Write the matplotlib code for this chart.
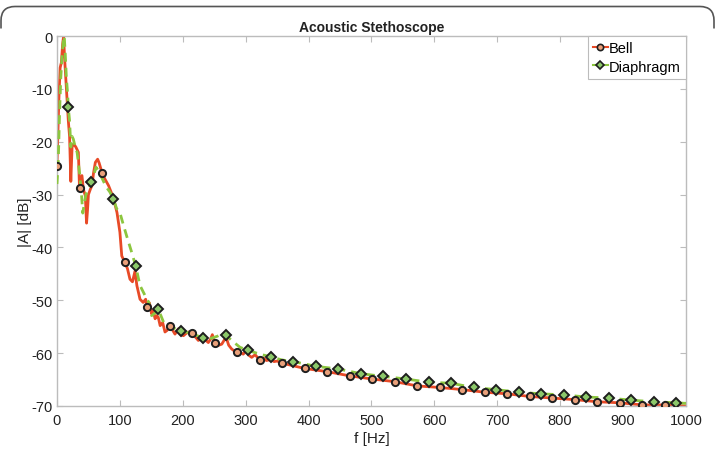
import numpy as np
import matplotlib
matplotlib.use("Agg")
import matplotlib.pyplot as plt
from matplotlib.lines import Line2D
from matplotlib.path import Path
from matplotlib.patches import PathPatch

plt.rcParams['font.family'] = ['Liberation Sans', 'DejaVu Sans']
plt.rcParams['axes.unicode_minus'] = False

# ---- Bell: marker points ----
bell_mark_f = [0, 35.8, 71.6, 107.4, 143.2, 179, 214.8, 250.6, 286.4, 322.2, 358,
               393.8, 429.6, 465.4, 501.2, 537, 572.8, 608.6, 644.4, 680.2, 716,
               751.8, 787.6, 823.4, 859.2, 895, 930.8, 966.6]
bell_mark_db = [-24.5, -28.8, -25.9, -42.7, -51.3, -54.8, -56.2, -58.0, -59.7, -61.3, -61.9,
                -62.9, -63.5, -64.3, -64.9, -65.4, -66.2, -66.5, -66.9, -67.4, -67.7,
                -68.2, -68.5, -68.8, -69.2, -69.4, -69.8, -69.8]
# ---- Bell: other line points ----
bell_line_f = [3, 5, 7, 9, 10.5, 12, 15, 18, 20, 22, 24, 26.5, 30, 34,
               39.7, 42, 45, 47, 48.5, 50, 53, 55.6, 58, 61, 64.6, 67, 69,
               76, 82, 86, 90, 95.4, 100, 103, 112, 116, 120, 124, 127, 132, 137, 141,
               147, 150.5, 153, 156, 158.5, 161, 164, 168, 171.7, 175, 183, 187.6,
               193, 197, 201, 205, 209, 219, 224.7, 228, 232.6, 236, 240.6, 244, 247,
               255, 262, 266, 269.7, 273, 277.6, 282, 291, 296, 301.5, 305, 309.5, 315,
               328, 333, 340, 345, 350, 1000]
bell_line_db = [-12, -6, -5, -1.5, 0, -4, -10, -16, -19, -27.5, -21, -20.4, -21, -22,
                -26.4, -29, -30.2, -35.4, -33, -30, -29, -28.3, -26, -23.9, -23.3, -24, -24.8,
                -27, -28.3, -29.5, -30.8, -33.4, -37.1, -41.6, -44, -46, -46.5, -44.5, -47.2, -49.8, -50.4, -49.8,
                -50.5, -52.6, -52, -53.5, -52.9, -53.2, -54.8, -54.2, -56, -55.7, -55.5, -56.4,
                -55.4, -56.5, -56.7, -56.3, -56, -56.8, -57.6, -57.3, -57, -57.5, -58, -57.4, -56.5,
                -58.6, -58.3, -57.5, -57.3, -58.5, -59.2, -59.6, -59.8, -60.2, -59.5, -60.4, -60.8, -60.3,
                -60.9, -61.4, -61.2, -61.6, -61.5, -70.0]

# ---- Diaphragm: marker points ----
dia_mark_f = [17.9, 53.7, 89.5, 125.3, 161.1, 196.9, 232.7, 268.5, 304.3, 340.1, 375.9,
              411.7, 447.5, 483.3, 519.1, 554.9, 590.7, 626.5, 662.3, 698.1, 733.9,
              769.7, 805.5, 841.3, 877.1, 912.9, 948.7, 984.5]
dia_mark_db = [-13.4, -27.7, -30.8, -43.6, -51.7, -55.9, -57.1, -56.6, -59.5, -60.7, -61.6,
               -62.5, -63.0, -63.9, -64.4, -64.9, -65.5, -65.7, -66.5, -66.9, -67.4,
               -67.7, -67.9, -68.3, -68.5, -68.9, -69.2, -69.4]
# ---- Diaphragm: other line points ----
dia_line_f = [0, 2, 4, 6, 8, 10, 11.5, 13, 15, 17, 20, 22, 24, 26, 29, 32, 36, 39, 41,
              43, 46, 50, 58, 62, 66, 72, 78, 84, 95, 100, 105, 110.7, 118.7, 132, 140,
              146, 150.5, 155, 171.7, 182, 190, 205, 215, 225, 245, 255, 262, 277.6, 291,
              322.7, 358, 1000]
dia_line_db = [-28, -24, -15, -8, -4, -1, 0, -3, -8, -11, -16, -21, -19, -19.5, -21, -22, -26, -30, -33.5,
               -32, -30, -29, -26.5, -24.8, -25.5, -27, -28.5, -29.5, -32.7, -33.4, -35.5, -37.8, -40.9, -47.2, -49.1,
               -50.4, -52.9, -52.5, -54.8, -55, -55.5, -56, -56.3, -56.8, -57.2, -56.8, -56.3, -57.6, -58.9,
               -60.2, -61.3, -69.5]

def merged(lf, ldb, mf, mdb):
    f = np.concatenate([lf, mf])
    d = np.concatenate([ldb, mdb])
    o = np.argsort(f, kind='stable')
    return f[o], d[o]

bf, bd = merged(bell_line_f, bell_line_db, bell_mark_f, bell_mark_db)
df, dd = merged(dia_line_f, dia_line_db, dia_mark_f, dia_mark_db)

red = '#e84a27'
green = '#8cc63f'
circ_face = '#e9a07a'
dia_face = '#8cc86a'
edge = '#1e1e1e'
txt = '#222222'

fig = plt.figure(figsize=(7.15, 4.52), dpi=100)
ax = fig.add_axes([0.0797, 0.0996, 0.8797, 0.8184])

ax.plot(bf, bd, color=red, lw=2.0, zorder=2)
ax.plot(df, dd, color=green, lw=2.0, ls=(0, (3.2, 2.2)), zorder=3)
ax.plot(bell_mark_f, bell_mark_db, ls='none', marker='o', ms=5.2, mfc=circ_face,
        mec=edge, mew=1.4, zorder=4)
ax.plot(dia_mark_f, dia_mark_db, ls='none', marker='D', ms=4.6, mfc=dia_face,
        mec=edge, mew=1.4, zorder=5)

ax.set_xlim(0, 1000)
ax.set_ylim(-70, 0)
ax.set_xticks(np.arange(0, 1001, 100))
ax.set_yticks(np.arange(-70, 1, 10))
ax.tick_params(direction='in', length=4, width=0.8, color='#bcbcbc', labelsize=10.5,
               top=True, right=True, labelcolor=txt)
ax.tick_params(axis='x', pad=5)
ax.tick_params(axis='y', pad=3)
for s in ax.spines.values():
    s.set_color('#bcbcbc')
    s.set_linewidth(1.0)

ax.set_title('Acoustic Stethoscope', fontsize=10, fontweight='bold', pad=4, color=txt)
ax.set_xlabel('f [Hz]', fontsize=11, color=txt, labelpad=3)
ax.set_ylabel('|A| [dB]', fontsize=11, color=txt, labelpad=0)

handles = [Line2D([], [], color=red, lw=1.5, marker='o', ms=4.5, mfc=circ_face, mec=edge, mew=1.2),
           Line2D([], [], color=green, lw=1.5, marker='D', ms=4, mfc=dia_face, mec=edge, mew=1.2)]
leg = ax.legend(handles, ['Bell', 'Diaphragm'], loc='upper right', borderaxespad=0.0,
                fontsize=10.5, handlelength=1.0, handletextpad=0.1, borderpad=0.35,
                labelspacing=0.3, fancybox=False, framealpha=1)
leg.get_frame().set_edgecolor('#bcbcbc')
leg.get_frame().set_linewidth(0.8)

# rounded frame line at top of figure (pixel coordinates)
W, H = 715, 452
top = H - 7.5
r = 14
verts = [(1, top - 22), (1, top - r), (1, top), (1 + r, top), (W - 1 - r, top),
         (W - 1, top), (W - 1, top - r), (W - 1, top - 22)]
codes = [Path.MOVETO, Path.LINETO, Path.CURVE3, Path.CURVE3, Path.LINETO,
         Path.CURVE3, Path.CURVE3, Path.LINETO]
frame = PathPatch(Path(verts, codes), transform=None, fill=False,
                  edgecolor='#555555', lw=1.2)
fig.patches.append(frame)

fig.savefig('out.png', dpi=100)
